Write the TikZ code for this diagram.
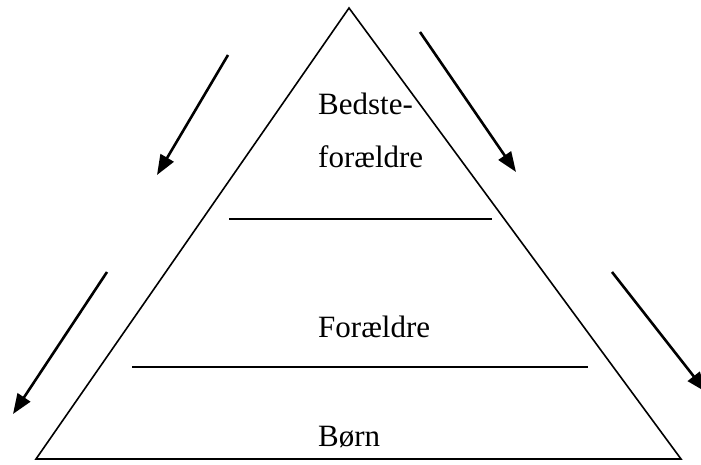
\documentclass[tikz,border=0pt]{standalone}
\usepackage{fontspec}
\setmainfont{Liberation Serif}
\usetikzlibrary{arrows.meta}
\begin{document}
\begin{tikzpicture}[x=1pt,y=-1pt,
  edge/.style={line width=1.6pt, line join=miter},
  flow/.style={line width=2.6pt, -{Triangle[length=20pt,width=15pt]}},
  lbl/.style={anchor=base west, inner sep=0pt, font=\fontsize{31}{34}\selectfont}]
\clip (0,0) rectangle (701,465);
\useasboundingbox (0,0) rectangle (701,465);
\coordinate (apex) at (349,8);
\coordinate (bl) at (36,459);
\coordinate (br) at (681,459);
\draw[edge] (apex) -- (bl) -- (br) -- cycle;
\coordinate (l1a) at (229,219); \coordinate (l1b) at (492,219);
\coordinate (l2a) at (132,367); \coordinate (l2b) at (588,367);
\draw[edge] (l1a) -- (l1b);
\draw[edge] (l2a) -- (l2b);
\node[lbl] (t1) at (318,115) {Bedste-};
\node[lbl] (t2) at (318,168) {forældre};
\node[lbl] (t3) at (318,337) {Forældre};
\node[lbl] (t4) at (318,446) {Børn};
\coordinate (a1s) at (228,55); \coordinate (a1e) at (157,175);
\coordinate (a2s) at (420,32); \coordinate (a2e) at (516,172);
\coordinate (a3s) at (107,272); \coordinate (a3e) at (13,414);
\coordinate (a4s) at (612,272); \coordinate (a4e) at (706,392);
\draw[flow] (a1s) -- (a1e);
\draw[flow] (a2s) -- (a2e);
\draw[flow] (a3s) -- (a3e);
\draw[flow] (a4s) -- (a4e);
\end{tikzpicture}
\end{document}
